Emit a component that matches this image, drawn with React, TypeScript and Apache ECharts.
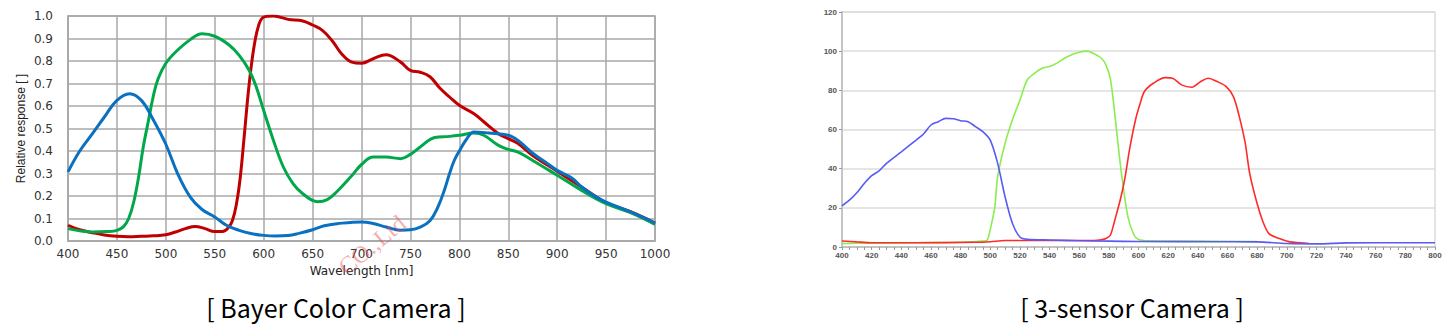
import React, { useEffect, useRef } from "react";
import * as echarts from "echarts";

// ---------- Bayer colour camera (relative response 0..1) ----------
const bayerBlueNm = [400, 412, 425, 437, 450, 463, 475, 487, 500, 512, 525, 537, 550, 562, 575, 587, 600, 612, 625, 637, 650, 662, 675, 700, 712, 725, 740, 750, 760, 770, 778, 785, 790, 795, 800, 807, 815, 830, 850, 860, 875, 890, 900, 915, 925, 940, 950, 975, 1000];
const bayerBlue = [0.307, 0.4, 0.477, 0.55, 0.625, 0.655, 0.625, 0.54, 0.43, 0.3, 0.195, 0.14, 0.107, 0.07, 0.047, 0.033, 0.025, 0.022, 0.024, 0.035, 0.05, 0.068, 0.077, 0.085, 0.078, 0.062, 0.048, 0.05, 0.062, 0.09, 0.15, 0.23, 0.3, 0.36, 0.4, 0.45, 0.485, 0.48, 0.47, 0.447, 0.39, 0.345, 0.314, 0.28, 0.24, 0.195, 0.173, 0.129, 0.08];

const bayerRedNm = [400, 412, 425, 437, 450, 462, 475, 487, 500, 510, 520, 530, 540, 550, 558, 564, 568, 572, 576, 580, 585, 590, 595, 600, 610, 625, 640, 650, 660, 670, 680, 690, 700, 712, 725, 740, 750, 760, 770, 780, 790, 800, 815, 825, 840, 850, 860, 875, 900, 925, 950, 975, 1000];
const bayerRed = [0.07, 0.05, 0.037, 0.027, 0.021, 0.019, 0.021, 0.023, 0.028, 0.04, 0.055, 0.065, 0.055, 0.042, 0.042, 0.06, 0.09, 0.16, 0.28, 0.46, 0.69, 0.86, 0.96, 0.995, 1.0, 0.985, 0.978, 0.96, 0.936, 0.89, 0.83, 0.795, 0.79, 0.81, 0.828, 0.795, 0.758, 0.75, 0.73, 0.68, 0.64, 0.603, 0.566, 0.53, 0.477, 0.455, 0.433, 0.38, 0.31, 0.24, 0.17, 0.13, 0.08];

const bayerGreenNm = [400, 412, 425, 440, 450, 457, 462, 467, 472, 477, 482, 487, 492, 500, 510, 525, 537, 550, 565, 575, 585, 592, 600, 610, 620, 630, 640, 655, 665, 675, 690, 700, 712, 725, 740, 750, 760, 775, 790, 800, 815, 825, 840, 850, 860, 875, 900, 925, 950, 975, 1000];
const bayerGreen = [0.055, 0.045, 0.04, 0.042, 0.047, 0.065, 0.1, 0.17, 0.28, 0.42, 0.53, 0.64, 0.72, 0.79, 0.84, 0.895, 0.921, 0.91, 0.87, 0.825, 0.76, 0.69, 0.58, 0.447, 0.33, 0.255, 0.21, 0.175, 0.184, 0.22, 0.29, 0.34, 0.373, 0.373, 0.366, 0.385, 0.418, 0.46, 0.465, 0.47, 0.48, 0.47, 0.425, 0.407, 0.395, 0.358, 0.292, 0.225, 0.166, 0.126, 0.074];

// ---------- 3-sensor camera (response 0..120) ----------
const sensorBlueNm = [400, 405, 410, 415, 420, 425, 430, 440, 450, 455, 460, 465, 470, 475, 480, 485, 490, 495, 500, 505, 510, 515, 520, 525, 540, 560, 580, 600, 650, 680, 700, 720, 740, 760, 800];
const sensorBlue = [21, 23.9, 27.7, 32.4, 36.4, 38.9, 42.7, 48.6, 54.6, 57.7, 62.3, 64, 65.7, 65.5, 64.5, 64, 61.5, 58.9, 54.6, 42.7, 25.6, 12, 5.1, 3.9, 3.6, 3.2, 3, 2.8, 2.7, 2.6, 1.8, 1.6, 2.1, 2.2, 2.2];

const sensorGreenNm = [400, 420, 450, 480, 495, 498, 500, 503, 505, 510, 515, 520, 525, 530, 535, 540, 545, 550, 555, 560, 565, 570, 575, 578, 581, 584, 587, 590, 593, 597, 600, 605, 640, 680];
const sensorGreen = [1.7, 2.0, 2.2, 2.4, 3, 3.6, 9, 20, 35.8, 53, 65, 75, 85.4, 88.8, 91.3, 92.2, 93.9, 96.4, 98.2, 99.4, 100, 98.7, 96.4, 93, 86, 68, 47, 29, 15, 6, 3.8, 3.2, 3, 2.8];

const sensorRedNm = [400, 410, 420, 450, 490, 500, 510, 540, 570, 575, 578, 581, 584, 588, 591, 594, 598, 601, 604, 610, 618, 623, 629, 636, 642, 647, 653, 659, 664, 668, 672, 675, 680, 684, 688, 695, 702, 709, 715];
const sensorRed = [3.1, 2.6, 2.2, 2.2, 2.4, 2.7, 3.3, 3.3, 3.3, 3.7, 4.3, 6, 13.7, 25, 35.8, 50, 65, 73, 79.4, 83.6, 86.5, 86.2, 82.8, 81.6, 84.5, 86.2, 84.5, 82, 76.8, 66.6, 53, 37.6, 22.2, 12.8, 6.8, 4.3, 2.6, 2.2, 1.8];

const bayerTitle = "[ Bayer Color Camera ]";
const sensorTitle = "[ 3-sensor Camera ]";

const zip = (xs: number[], ys: number[]) => xs.map((x, i) => [x, ys[i]]);
const SANS = "Arial, 'Liberation Sans', sans-serif";
const WIDE = "'DejaVu Sans', sans-serif";

export default function App() {
  const ref = useRef<HTMLDivElement>(null);
  useEffect(() => {
    if (!ref.current) return;
    const chart = echarts.init(ref.current, null, { renderer: "svg" });
    const gridGray = "#a8a8a8";
    const lightGray = "#dcdcdc";
    chart.setOption({
      animation: false,
      grid: [
        { left: 68, top: 16, width: 587, height: 225, show: true, borderColor: gridGray, borderWidth: 1.5 },
        { left: 842, top: 12, width: 593, height: 235, show: true, borderColor: lightGray, borderWidth: 1.5 },
      ],
      xAxis: [
        {
          gridIndex: 0, type: "value", min: 400, max: 1000, interval: 50,
          name: "Wavelength [nm]", nameLocation: "middle", nameGap: 20,
          nameTextStyle: { fontFamily: WIDE, fontSize: 12, color: "#222" },
          axisLine: { lineStyle: { color: gridGray, width: 1.5 } },
          axisTick: { show: false },
          axisLabel: { fontFamily: WIDE, fontSize: 12, color: "#333", margin: 7, formatter: (v: number) => String(v) },
          splitLine: { show: true, lineStyle: { color: gridGray, width: 1.5 } },
        },
        {
          gridIndex: 1, type: "value", min: 400, max: 800, interval: 20,
          axisLine: { lineStyle: { color: "#bbbbbb", width: 1.5 } },
          axisTick: { show: true, length: 3, lineStyle: { color: "#999" } },
          minorTick: { show: true, splitNumber: 4, length: 3, lineStyle: { color: "#999" } },
          axisLabel: { fontFamily: SANS, fontSize: 8, fontWeight: "bold", color: "#555", margin: 4, formatter: (v: number) => String(v) },
          splitLine: { show: false },
        },
      ],
      yAxis: [
        {
          gridIndex: 0, type: "value", min: 0, max: 1, interval: 0.1,
          name: "Relative response [ ]", nameLocation: "middle", nameGap: 41,
          nameTextStyle: { fontFamily: SANS, fontSize: 12, color: "#222" },
          axisLine: { show: true, lineStyle: { color: gridGray, width: 1.5 } },
          axisTick: { show: false },
          axisLabel: { fontFamily: WIDE, fontSize: 12, color: "#333", margin: 15, formatter: (v: number) => v.toFixed(1) },
          splitLine: { show: true, lineStyle: { color: gridGray, width: 1.5 } },
        },
        {
          gridIndex: 1, type: "value", min: 0, max: 120, interval: 20,
          axisLine: { show: true, lineStyle: { color: "#bbbbbb", width: 1.5 } },
          axisTick: { show: true, length: 3, lineStyle: { color: "#999" } },
          axisLabel: { fontFamily: SANS, fontSize: 8, fontWeight: "bold", color: "#555", margin: 5 },
          splitLine: { show: true, lineStyle: { color: lightGray, width: 1.5 } },
        },
      ],
      series: [
        { type: "line", xAxisIndex: 0, yAxisIndex: 0, data: zip(bayerRedNm, bayerRed), smooth: 0.4, showSymbol: false, lineStyle: { color: "#c00000", width: 3 } },
        { type: "line", xAxisIndex: 0, yAxisIndex: 0, data: zip(bayerGreenNm, bayerGreen), smooth: 0.4, showSymbol: false, lineStyle: { color: "#00a84a", width: 3 } },
        { type: "line", xAxisIndex: 0, yAxisIndex: 0, data: zip(bayerBlueNm, bayerBlue), smooth: 0.4, showSymbol: false, lineStyle: { color: "#0a70c0", width: 3 } },
        { type: "line", xAxisIndex: 1, yAxisIndex: 1, data: zip(sensorGreenNm, sensorGreen), smooth: 0.3, showSymbol: false, lineStyle: { color: "#8cec50", width: 1.6 } },
        { type: "line", xAxisIndex: 1, yAxisIndex: 1, data: zip(sensorRedNm, sensorRed), smooth: 0.3, showSymbol: false, lineStyle: { color: "#ff2a2a", width: 1.6 } },
        { type: "line", xAxisIndex: 1, yAxisIndex: 1, data: zip(sensorBlueNm, sensorBlue), smooth: 0.3, showSymbol: false, lineStyle: { color: "#5a5af5", width: 1.6 } },
      ],
      graphic: [
        {
          type: "text", x: 336, y: 307, z: 10,
          style: { text: bayerTitle, fontFamily: "'Noto Sans CJK KR', sans-serif", fontSize: 25, fill: "#000", align: "center", verticalAlign: "middle" },
        },
        {
          type: "text", x: 1132, y: 307, z: 10,
          style: { text: sensorTitle, fontFamily: "'Noto Sans CJK KR', sans-serif", fontSize: 25, fill: "#000", align: "center", verticalAlign: "middle" },
        },
        {
          type: "text", x: 372, y: 245, rotation: Math.PI / 4 - 0.1, z: 10,
          style: { text: "CO.,Ltd", fontFamily: "'Liberation Serif', serif", fontSize: 24, fill: "rgba(235,70,70,0.45)", align: "center", verticalAlign: "middle" },
        },
      ],
    });
    return () => chart.dispose();
  }, []);
  return <div ref={ref} style={{ position: "absolute", left: 0, top: 0, width: 1453, height: 331 }} />;
}
